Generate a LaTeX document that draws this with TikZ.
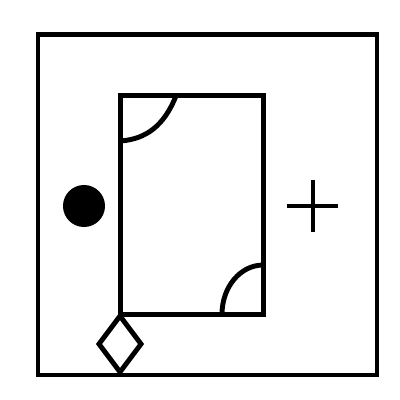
\documentclass[tikz,border=0pt]{standalone}
\usetikzlibrary{shapes.geometric}
\tikzset{every node/.style={draw=none,inner sep=0pt,outer sep=0pt}}
\tikzset{frame/.style={rectangle,draw,minimum width=1.42cm,minimum height=2.18cm}}
\tikzset{mark dot/.style={circle,fill=black,minimum size=0.42cm}}

\begin{document}
\begin{tikzpicture}[x=0.01cm,y=-0.01cm,line width=1.4pt]
      \useasboundingbox (0,0) rectangle (400,400);
      \draw (38,34.5) rectangle (377,375);
      \node[frame] (box) at (192,205) {};
      \node[mark dot] (dot) at (84,206) {};
      \node[diamond,draw,minimum width=0.42cm,minimum height=0.56cm] (gate) at (120,344) {};
      \coordinate (plus) at (313,206);
        \draw ([xshift=0.55cm]box.north west) .. controls +(-0.12cm,-0.3cm) and +(0.25cm,0.02cm) .. ([yshift=-0.45cm]box.north west);
        \draw ([yshift=0.49cm]box.south east) arc[start angle=90,end angle=180,x radius=0.41cm,y radius=0.49cm];
        \draw ([xshift=-0.26cm]plus) -- ([xshift=0.25cm]plus);
        \draw ([yshift=0.26cm]plus) -- ([yshift=-0.26cm]plus);
    \end{tikzpicture}
\end{document}
